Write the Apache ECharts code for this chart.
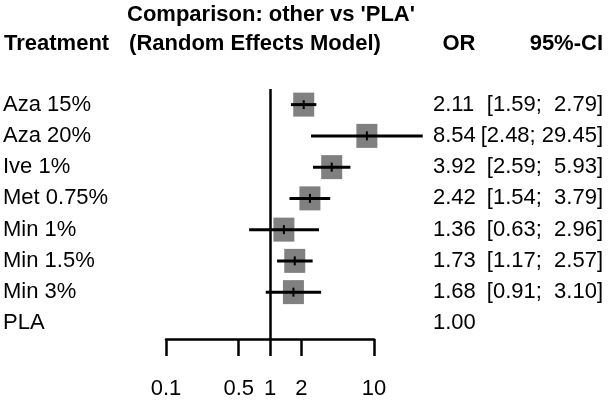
<!DOCTYPE html>
<html>
<head>
<meta charset="utf-8">
<script src="https://cdn.jsdelivr.net/npm/echarts@6/dist/echarts.min.js"></script>
<style>html,body{margin:0;padding:0;background:#fff}#c{width:608px;height:403px}</style>
</head>
<body>
<div id="c"></div>
<script>
const treatments = ['Aza 15%', 'Aza 20%', 'Ive 1%', 'Met 0.75%', 'Min 1%', 'Min 1.5%', 'Min 3%', 'PLA'];
const oddsRatio = [2.11, 8.54, 3.92, 2.42, 1.36, 1.73, 1.68, 1.00];
const ciLower = [1.59, 2.48, 2.59, 1.54, 0.63, 1.17, 0.91, null];
const ciUpper = [2.79, 29.45, 5.93, 3.79, 2.96, 2.57, 3.10, null];
const tickValues = [0.1, 0.5, 1, 2, 10];

const FONT = "'Liberation Sans', Arial, sans-serif";
const FS = 22;

function pad(s, n) { while (s.length < n) s = ' ' + s; return s; }
const orLabels = oddsRatio.map(v => v.toFixed(2));
const ciLabels = ciLower.map((lo, i) => lo == null ? '' :
  '[' + lo.toFixed(2) + '; ' + pad(ciUpper[i].toFixed(2), 5) + ']');

const seriesData = treatments.map((t, i) => [oddsRatio[i], i, ciLower[i], ciUpper[i]]);

const chart = echarts.init(document.getElementById('c'), null, {renderer: 'canvas'});

const labelBase = {color: '#000', fontSize: FS, fontFamily: FONT, interval: 0};

chart.setOption({
  animation: false,
  backgroundColor: '#fff',
  grid: {left: 166, width: 208, top: 89, height: 250},
  xAxis: {
    type: 'log', logBase: 10, min: 0.1, max: 10,
    axisLine: {show: true, lineStyle: {color: '#000', width: 2.5}},
    axisTick: {show: true, customValues: tickValues, length: 17, lineStyle: {color: '#000', width: 2.5}},
    axisLabel: {color: '#000', fontSize: FS, fontFamily: FONT, customValues: tickValues, margin: 39, hideOverlap: false,
      formatter: v => String(v)},
    splitLine: {show: false},
    minorTick: {show: false}
  },
  yAxis: [
    {type: 'category', data: treatments, inverse: true, position: 'left',
     axisLine: {show: false}, axisTick: {show: false}, splitLine: {show: false},
     axisLabel: Object.assign({}, labelBase, {align: 'left', margin: 163})},
    {type: 'category', data: orLabels, inverse: true, position: 'right',
     axisLine: {show: false}, axisTick: {show: false}, splitLine: {show: false},
     axisLabel: Object.assign({}, labelBase, {align: 'left', margin: 59})},
    {type: 'category', data: ciLabels, inverse: true, position: 'right', offset: 229,
     axisLine: {show: false}, axisTick: {show: false}, splitLine: {show: false},
     axisLabel: Object.assign({}, labelBase, {align: 'right', margin: 0})}
  ],
  graphic: [
    {type: 'text', x: 271, y: 15, style: {text: "Comparison: other vs 'PLA'", font: 'bold 22px ' + FONT, fill: '#000', align: 'center', verticalAlign: 'middle'}},
    {type: 'text', x: 255, y: 44, style: {text: '(Random Effects Model)', font: 'bold 22px ' + FONT, fill: '#000', align: 'center', verticalAlign: 'middle'}},
    {type: 'text', x: 4, y: 44, style: {text: 'Treatment', font: 'bold 22px ' + FONT, fill: '#000', align: 'left', verticalAlign: 'middle'}},
    {type: 'text', x: 459, y: 44, style: {text: 'OR', font: 'bold 22px ' + FONT, fill: '#000', align: 'center', verticalAlign: 'middle'}},
    {type: 'text', x: 603, y: 44, style: {text: '95%-CI', font: 'bold 22px ' + FONT, fill: '#000', align: 'right', verticalAlign: 'middle'}}
  ],
  series: [{
    type: 'custom',
    xAxisIndex: 0, yAxisIndex: 0,
    clip: false,
    silent: true,
    data: seriesData,
    encode: {x: 0, y: 1},
    renderItem: function (params, api) {
      const lo = api.value(2), up = api.value(3);
      if (lo == null || isNaN(lo)) return null;
      const c = api.coord([api.value(0), api.value(1)]);
      const pl = api.coord([lo, api.value(1)]);
      const pu = api.coord([up, api.value(1)]);
      const w = 21, h = 24;
      return {
        type: 'group',
        children: [
          {type: 'rect', shape: {x: c[0] - w / 2, y: c[1] - h / 2, width: w, height: h}, style: {fill: '#808080'}},
          {type: 'line', shape: {x1: pl[0], y1: c[1], x2: pu[0], y2: c[1]}, style: {stroke: '#000', lineWidth: 3}},
          {type: 'line', shape: {x1: c[0], y1: c[1] - 4.5, x2: c[0], y2: c[1] + 4.5}, style: {stroke: '#000', lineWidth: 2}}
        ]
      };
    },
    markLine: {
      silent: true, symbol: 'none', label: {show: false},
      lineStyle: {color: '#000', width: 2.5, type: 'solid'},
      data: [{xAxis: 1}]
    }
  }]
});
</script>
</body>
</html>
